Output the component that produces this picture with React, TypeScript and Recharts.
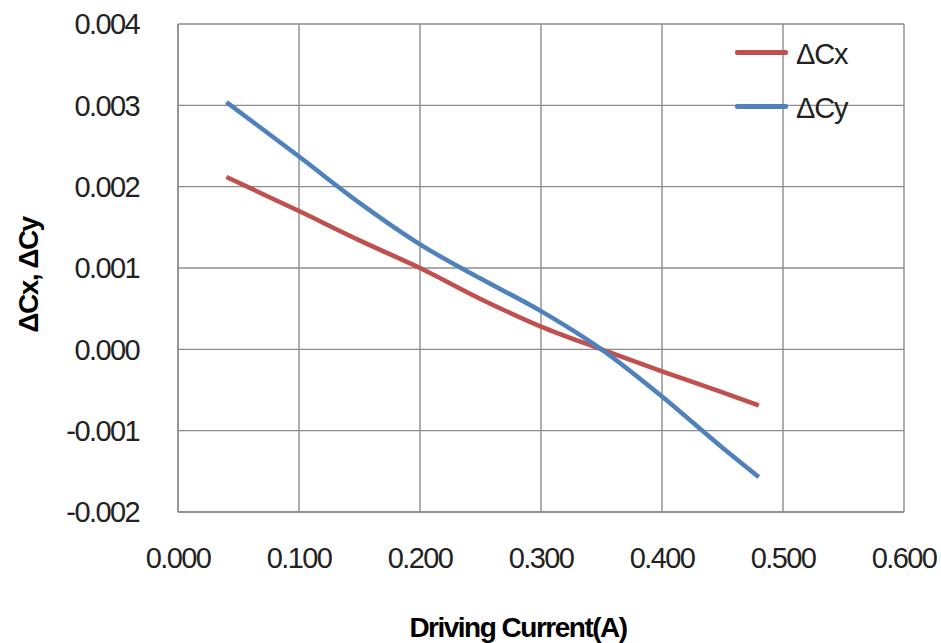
import React from "react";
import { LineChart, Line, XAxis, YAxis, CartesianGrid, Legend } from "recharts";

const currents = [0.04, 0.1, 0.15, 0.2, 0.25, 0.3, 0.35, 0.4, 0.45, 0.48];
const deltaCx = [0.00212, 0.0017, 0.00134, 0.001, 0.00062, 0.00028, 0.0, -0.00027, -0.00053, -0.00069];
const deltaCy = [0.00304, 0.00237, 0.0018, 0.00129, 0.00087, 0.00047, 0.0, -0.00058, -0.00121, -0.00157];
const xTicks = [0, 0.1, 0.2, 0.3, 0.4, 0.5, 0.6];
const yTicks = [-0.002, -0.001, 0, 0.001, 0.002, 0.003, 0.004];
const seriesNames = ["ΔCx", "ΔCy"];
const seriesColors = ["#C0504D", "#4F81BD"];

const data = currents.map((c, i) => ({ x: c, cx: deltaCx[i], cy: deltaCy[i] }));

const FONT = "'Liberation Sans', Arial, sans-serif";
const GRID = "#8c8c8c";

const tickStyle = { fontFamily: FONT, fontSize: 29, fill: "#222", letterSpacing: -1.6 };

const renderLegend = () => (
  <div style={{ fontFamily: FONT, fontSize: 29, letterSpacing: -1.2, color: "#222" }}>
    {seriesNames.map((n, i) => (
      <div key={n} style={{ display: "flex", alignItems: "center", height: 54 }}>
        <div style={{ width: 53, height: 5, background: seriesColors[i], borderRadius: 2 }} />
        <span style={{ marginLeft: 8, lineHeight: "54px", paddingTop: 4 }}>{n}</span>
      </div>
    ))}
  </div>
);

export default function App() {
  return (
    <div style={{ position: "absolute", left: 0, top: 0, width: 941, height: 643, background: "#fff" }}>
      <LineChart width={941} height={643} data={data} margin={{ top: 24, right: 37, left: 0, bottom: 0 }}>
        <CartesianGrid stroke={GRID} strokeWidth={1.4} horizontalValues={yTicks} verticalValues={xTicks} />
        <XAxis
          dataKey="x"
          type="number"
          domain={[0, 0.6]}
          ticks={xTicks}
          tickFormatter={(v: number) => v.toFixed(3)}
          axisLine={{ stroke: GRID, strokeWidth: 1.4 }}
          tickLine={false}
          tickSize={0}
          tickMargin={35}
          height={131}
          tick={tickStyle}
          interval={0}
          label={{
            value: "Driving Current(A)",
            position: "insideBottom",
            offset: 6,
            dx: -23,
            style: { fontFamily: FONT, fontSize: 28, fontWeight: "bold", fill: "#000", letterSpacing: -1.5 },
          }}
        />
        <YAxis
          type="number"
          domain={[-0.002, 0.004]}
          ticks={yTicks}
          tickFormatter={(v: number) => v.toFixed(3)}
          axisLine={{ stroke: GRID, strokeWidth: 1.4 }}
          tickLine={false}
          tickSize={0}
          tickMargin={39}
          width={178}
          tick={tickStyle}
          interval={0}
          label={{
            value: "ΔCx, ΔCy",
            angle: -90,
            position: "insideLeft",
            offset: 28,
            dy: 7,
            style: { textAnchor: "middle", fontFamily: FONT, fontSize: 28, fontWeight: "bold", fill: "#000", letterSpacing: -1.5 },
          }}
        />
        <Legend
          layout="horizontal"
          verticalAlign="middle"
          align="center"
          content={renderLegend}
          wrapperStyle={{ left: 735, top: 25, width: 140 }}
        />
        <Line
          type="monotone"
          dataKey="cx"
          name={seriesNames[0]}
          stroke={seriesColors[0]}
          strokeWidth={4.5}
          dot={false}
          isAnimationActive={false}
        />
        <Line
          type="monotone"
          dataKey="cy"
          name={seriesNames[1]}
          stroke={seriesColors[1]}
          strokeWidth={4.5}
          dot={false}
          isAnimationActive={false}
        />
      </LineChart>
    </div>
  );
}
